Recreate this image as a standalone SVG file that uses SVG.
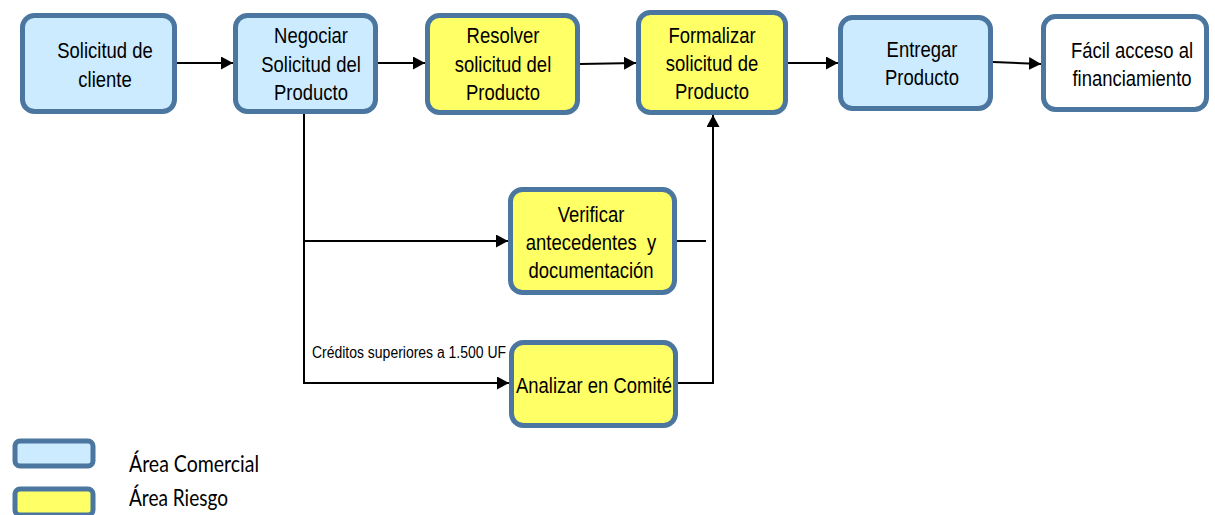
<svg xmlns="http://www.w3.org/2000/svg" width="1215" height="515" viewBox="0 0 1215 515">
<style>
.box{stroke:#4A76A0;stroke-width:5}
.blue{fill:#CCEBFF}
.yellow{fill:#FFFF66}
.white{fill:#FFFFFF}
.t{font-family:"Liberation Sans",Arial,sans-serif;font-size:22px;fill:#000;text-anchor:middle}
.lbl{font-family:"Liberation Sans",Arial,sans-serif;font-size:16px;fill:#000}
.leg{font-family:Lato,"Liberation Sans",sans-serif;font-size:23px;fill:#000}
.c{fill:none;stroke:#000;stroke-width:2}
</style>
<defs>
<marker id="ah" markerUnits="userSpaceOnUse" markerWidth="12" markerHeight="13" refX="12" refY="6.5" orient="auto">
<path d="M0,0 L12,6.5 L0,13 z" fill="#000"/>
</marker>
</defs>
<rect width="1215" height="515" fill="#fff"/>
<g id="connectors">
<path class="c" d="M177 63 H233" marker-end="url(#ah)"/>
<path class="c" d="M378 63 H425" marker-end="url(#ah)"/>
<path class="c" d="M580 64 L636 63" marker-end="url(#ah)"/>
<path class="c" d="M788 63 H838" marker-end="url(#ah)"/>
<path class="c" d="M993 62 L1041 64" marker-end="url(#ah)"/>
<path class="c" d="M304 114 V383 H509" marker-end="url(#ah)"/>
<path class="c" d="M304 241 H508" marker-end="url(#ah)"/>
<path class="c" d="M677 241 H706"/>
<path class="c" d="M678 383 H713 V115" marker-end="url(#ah)"/>
<text class="lbl" x="312" y="358" textLength="194" lengthAdjust="spacingAndGlyphs">Créditos superiores a 1.500 UF</text>
</g>
<g id="n1">
<rect class="box blue" x="22.5" y="15.5" width="152" height="96" rx="12"/>
<text class="t" transform="translate(105 0) scale(0.84 1)"><tspan x="0" y="58">Solicitud de</tspan><tspan x="0" y="87">cliente</tspan></text>
</g>
<g id="n2">
<rect class="box blue" x="235.5" y="15.5" width="140" height="96" rx="12"/>
<text class="t" transform="translate(311 0) scale(0.84 1)"><tspan x="0" y="43">Negociar</tspan><tspan x="0" y="72">Solicitud del</tspan><tspan x="0" y="100">Producto</tspan></text>
</g>
<g id="n3">
<rect class="box yellow" x="427.5" y="15.5" width="150" height="97" rx="12"/>
<text class="t" transform="translate(503 0) scale(0.84 1)"><tspan x="0" y="43">Resolver</tspan><tspan x="0" y="72">solicitud del</tspan><tspan x="0" y="100">Producto</tspan></text>
</g>
<g id="n4">
<rect class="box yellow" x="638.5" y="12.5" width="147" height="100" rx="12"/>
<text class="t" transform="translate(712 0) scale(0.84 1)"><tspan x="0" y="43">Formalizar</tspan><tspan x="0" y="71">solicitud de</tspan><tspan x="0" y="99">Producto</tspan></text>
</g>
<g id="n5">
<rect class="box blue" x="840.5" y="17.5" width="150" height="91" rx="12"/>
<text class="t" transform="translate(922 0) scale(0.84 1)"><tspan x="0" y="57">Entregar</tspan><tspan x="0" y="85">Producto</tspan></text>
</g>
<g id="n6">
<rect class="box white" x="1043.5" y="16.5" width="163" height="93" rx="12"/>
<text class="t" transform="translate(1132 0) scale(0.84 1)"><tspan x="0" y="58">Fácil acceso al</tspan><tspan x="0" y="86">financiamiento</tspan></text>
</g>
<g id="n7">
<rect class="box yellow" x="510.5" y="189.5" width="164" height="103" rx="12"/>
<text class="t" transform="translate(591 0) scale(0.84 1)" xml:space="preserve"><tspan x="0" y="222">Verificar</tspan><tspan x="0" y="250">antecedentes  y</tspan><tspan x="0" y="278">documentación</tspan></text>
</g>
<g id="n8">
<rect class="box yellow" x="511.5" y="342.5" width="164" height="83" rx="12"/>
<text class="t" transform="translate(594 0) scale(0.84 1)"><tspan x="0" y="393">Analizar en Comité</tspan></text>
</g>
<g id="legend">
<rect x="15" y="441" width="78" height="25" rx="5" fill="#CCEBFF" stroke="#4A76A0" stroke-width="5"/>
<rect x="15" y="489" width="78" height="26" rx="5" fill="#FFFF66" stroke="#4A76A0" stroke-width="5"/>
<text class="leg" x="129" y="472" textLength="130" lengthAdjust="spacingAndGlyphs">Área Comercial</text>
<text class="leg" x="129" y="506" textLength="99" lengthAdjust="spacingAndGlyphs">Área Riesgo</text>
</g>
</svg>
